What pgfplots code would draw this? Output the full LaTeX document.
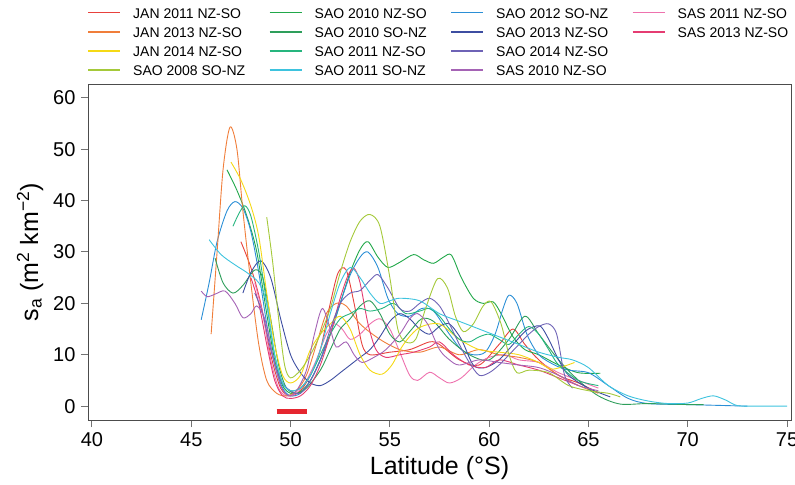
\documentclass[border=0pt]{standalone}
\usepackage{pgfplots}
\pgfplotsset{compat=1.18}
\usepackage{fontspec}
\setmainfont{Liberation Sans}
\definecolor{cA}{HTML}{E8413C}
\definecolor{cB}{HTML}{F07E3A}
\definecolor{cC}{HTML}{F5D915}
\definecolor{cD}{HTML}{A5C93A}
\definecolor{cE}{HTML}{21A84A}
\definecolor{cF}{HTML}{2E9E5B}
\definecolor{cG}{HTML}{26B57E}
\definecolor{cH}{HTML}{3EC3DE}
\definecolor{cI}{HTML}{2B8FD6}
\definecolor{cJ}{HTML}{3D4EA1}
\definecolor{cK}{HTML}{6E63B6}
\definecolor{cL}{HTML}{A563B5}
\definecolor{cM}{HTML}{EE72AE}
\definecolor{cN}{HTML}{E53C72}
\definecolor{barred}{HTML}{E5262F}
\newcommand{\legimg}[2]{\addlegendimage{empty legend}\addlegendentry{\textcolor{#1}{\rule[0.33em]{32bp}{1.7bp}}\hspace{13bp}\makebox[118bp][l]{#2}}}
\begin{document}
\begin{tikzpicture}
\begin{axis}[
  name=ax,
  scale only axis, width=703bp, height=336bp,
  xmin=39.8, xmax=75.2, ymin=-2.7, ymax=62.7,
  xtick={40,45,...,75}, ytick={0,10,...,60},
  tick align=outside, tick pos=left, major tick length=7bp,
  every tick/.style={black!55, line width=1bp},
  axis line style={black!70, line width=0.8bp},
  /pgf/number format/assume math mode=true,
  ticklabel style={font=\fontsize{20bp}{24bp}\selectfont},
  xticklabel style={yshift=-2bp},
  yticklabel style={xshift=-2bp},
  every axis x label/.style={at={(rel axis cs:0.5,0)}, yshift=-48bp, anchor=center},
  every axis y label/.style={at={(rel axis cs:0,0.5)}, xshift=-58bp, rotate=90, anchor=center},
  label style={font=\fontsize{25bp}{30bp}\selectfont},
  xlabel={Latitude (°S)},
  ylabel={s\textsubscript{a} (m\textsuperscript{2} km\textsuperscript{−2})},
  legend columns=4,
  legend cell align=left,
  legend style={draw=none, fill=none, at={(rel axis cs:0,1)}, anchor=south west,
    xshift=-3bp, yshift=5bp, row sep=7.8bp,
    nodes={inner sep=0pt},
    font=\fontsize{14bp}{16bp}\selectfont,
    /tikz/every odd column/.append style={column sep=0bp},
    /tikz/every even column/.append style={column sep=18.5bp}},
]
% JAN 2011 NZ-SO
\addplot[cA, line width=0.9bp, smooth, forget plot] coordinates {(47.5,32) (48.0,27) (48.5,20) (49.0,10) (49.5,3.5) (50.0,2) (50.5,3) (51.0,6) (51.5,11) (52.0,20) (52.4,26) (52.8,26.5) (53.2,20) (53.6,12) (54.0,10) (55.0,10.5) (56.0,11) (57.0,12.5) (57.5,12) (58.5,9) (59.5,8) (60.5,12) (61.2,15) (61.8,12) (62.5,9) (63.5,6) (64.5,4.5) (65.3,3)};
% SAO 2010 NZ-SO
\addplot[cE, line width=0.9bp, smooth, forget plot] coordinates {(46.8,46) (47.3,42) (47.8,37) (48.3,30) (48.8,18) (49.2,9) (49.6,4) (50.0,2.5) (50.5,2.8) (51.0,5) (51.5,9) (52.0,14) (52.5,20) (53.0,26) (53.5,30.5) (53.9,32) (54.4,29) (54.9,27) (55.5,28) (56.2,29.5) (56.7,28.5) (57.2,27.8) (57.7,29) (58.1,29.4) (58.6,25) (59.2,21) (59.7,20) (60.2,20.3) (60.6,18) (61.2,13.5) (61.8,11) (62.5,10) (63.5,8) (64.5,6.5) (65.6,6.4)};
% SAO 2012 SO-NZ
\addplot[cI, line width=0.9bp, smooth, forget plot] coordinates {(45.5,16.8) (45.9,24) (46.3,32) (46.8,38) (47.2,39.8) (47.6,38.5) (48.0,34) (48.4,26) (48.8,16) (49.2,8) (49.6,3.5) (50.0,2) (50.5,2.5) (51.0,5) (51.5,9) (52.0,14) (52.5,20) (53.0,25.5) (53.5,29) (53.9,30) (54.4,27) (54.9,21) (55.4,18) (56.0,17.5) (56.6,19) (57.2,18.5) (58.0,14) (58.6,11) (59.2,10) (59.8,10.5) (60.3,14) (60.7,19) (61.0,21.6) (61.4,20) (61.9,14) (62.5,10) (63.3,8) (64.0,7) (65.0,6.5) (66.0,4) (67.0,1.5) (68.0,0.5) (70.0,0.3) (72.0,0.1) (73.0,0)};
% SAS 2011 NZ-SO
\addplot[cM, line width=0.9bp, smooth, forget plot] coordinates {(48.2,24) (48.6,18) (49.0,9) (49.4,3.5) (49.8,2) (50.3,2.5) (50.8,5) (51.3,9) (51.8,14) (52.2,16) (52.6,15) (53.0,13) (53.5,14) (54.0,16) (54.5,17) (55.0,15) (55.5,10.5) (56.0,6) (56.4,5) (57.0,6.6) (57.5,5.5) (58.0,4.5) (58.6,5.5) (59.3,8) (60.0,9.5) (60.8,10) (61.5,9) (62.5,8.5) (63.5,6.5) (64.5,5) (65.5,3.5)};
% JAN 2013 NZ-SO
\addplot[cB, line width=0.9bp, smooth, forget plot] coordinates {(46.0,14) (46.3,30) (46.6,46) (46.95,54.3) (47.3,50) (47.6,38) (48.0,24) (48.4,12) (48.8,5) (49.3,2.5) (49.8,2) (50.3,3) (50.8,6) (51.3,12) (51.8,18) (52.3,20) (52.8,19.5) (53.5,16) (54.5,13) (55.5,11) (56.5,10.5) (57.5,11.5) (58.5,10) (59.5,11) (60.5,10) (61.5,9.5) (62.5,8.5) (63.5,6) (64.5,4) (65.5,2.5)};
% SAO 2010 SO-NZ
\addplot[cF, line width=0.9bp, smooth, forget plot] coordinates {(46.2,28.8) (46.6,24) (47.1,22) (47.6,23.5) (48.2,26.5) (48.6,25) (49.0,17) (49.4,8) (49.8,3.5) (50.3,2.5) (50.8,3.5) (51.5,7) (52.0,11) (52.5,15) (53.0,17) (53.5,19.5) (54.0,20.5) (54.5,18) (55.0,14) (55.5,12.5) (56.0,14.5) (56.6,17) (57.2,16.5) (58.0,13) (59.0,10) (60.0,9) (61.0,13) (61.8,17.5) (62.5,14) (63.5,9) (64.5,5) (65.5,2) (66.6,0.4) (68.0,0.5) (70.0,0.3) (70.8,0.3)};
% SAO 2013 NZ-SO
\addplot[cJ, line width=0.9bp, smooth, forget plot] coordinates {(47.6,22) (48.0,26) (48.5,28.3) (49.0,25) (49.5,17) (50.0,10) (50.5,6.5) (51.0,4.5) (51.5,4) (52.0,5) (52.5,6.5) (53.0,8) (53.5,9.5) (54.0,11) (54.5,13.5) (55.0,16.5) (55.5,18) (56.0,17) (56.5,15) (57.0,14) (57.5,15.5) (58.0,16) (58.6,13) (59.2,8) (59.8,7.5) (60.5,9) (61.2,12) (61.8,14.5) (62.2,15.4) (62.6,15.5) (63.0,13) (63.5,9) (64.0,6) (65.0,3.5) (66.1,1.8)};
% SAS 2013 NZ-SO
\addplot[cN, line width=0.9bp, smooth, forget plot] coordinates {(48.0,25) (48.4,20) (48.8,12) (49.2,5) (49.6,2) (50.0,1.5) (50.5,2) (51.0,4) (51.5,8) (52.0,14) (52.5,21) (52.9,25.5) (53.2,26.8) (53.5,24) (53.9,16) (54.3,11) (54.8,9.5) (55.5,10) (56.2,10.5) (57.0,11.5) (57.5,12.5) (58.2,10) (59.0,8) (59.8,7.5) (60.5,9) (61.5,8) (62.5,7) (63.5,5.5) (64.5,4)};
% JAN 2014 NZ-SO
\addplot[cC, line width=0.9bp, smooth, forget plot] coordinates {(47.0,47.5) (47.5,44) (48.0,39) (48.4,33) (48.8,22) (49.2,12) (49.6,6) (50.0,4.5) (50.5,6) (51.0,11) (51.5,14) (52.0,16) (52.5,17.5) (53.0,15) (53.5,10) (54.0,7) (54.6,6.2) (55.1,8) (55.6,11.5) (56.1,14) (56.6,15.5) (57.5,16) (58.5,13) (59.5,11) (60.5,10.5) (61.5,10) (62.5,8.5) (63.2,7.2) (64.3,8.5)};
% SAO 2011 NZ-SO
\addplot[cG, line width=0.9bp, smooth, forget plot] coordinates {(47.1,35) (47.4,37.5) (47.7,39) (48.0,37) (48.4,30) (48.8,20) (49.2,10) (49.6,4.5) (50.0,3) (50.5,3.5) (51.0,6) (51.5,10) (52.0,14) (52.5,17) (53.0,18) (53.5,19) (54.0,18.5) (54.6,19) (55.2,20) (55.8,18) (56.5,18.5) (57.0,19) (57.5,17.5) (58.0,15) (58.5,13) (59.0,12.5) (59.5,13.5) (60.0,14) (60.5,13) (61.0,12) (61.5,14) (62.0,15.5) (62.5,14) (63.0,11) (63.5,8) (64.5,5) (65.5,4)};
% SAO 2014 NZ-SO
\addplot[cK, line width=0.9bp, smooth, forget plot] coordinates {(48.2,22) (48.6,18) (49.0,11) (49.5,5) (50.0,3) (50.5,2.5) (51.0,5) (51.5,9) (52.0,15) (52.5,20) (53.0,22) (53.5,22.5) (54.0,24.5) (54.4,25.6) (54.9,23) (55.5,19) (56.0,18.5) (56.5,20) (57.0,21) (57.5,19.5) (58.0,16) (58.5,12) (59.0,8.5) (59.5,6) (60.0,6.5) (60.5,8) (61.0,10) (61.5,12) (62.0,14) (62.5,15.5) (63.0,16) (63.4,14) (63.8,6) (64.2,3.5)};
% SAO 2008 SO-NZ
\addplot[cD, line width=0.9bp, smooth, forget plot] coordinates {(48.8,36.8) (49.1,28) (49.4,17) (49.7,8) (50.0,5.5) (50.5,7) (51.0,10) (51.5,14) (52.0,19) (52.5,26) (53.0,32) (53.5,36) (54.0,37.3) (54.5,35) (55.0,25) (55.4,15) (55.8,12.5) (56.3,13) (56.8,19) (57.4,24.8) (57.9,23) (58.3,17.5) (58.7,14.5) (59.2,16) (59.7,19.5) (60.1,20.3) (60.6,16) (61.0,10) (61.4,6.5) (62.0,7) (63.0,6.5) (64.0,4) (65.0,3) (66.0,2.5) (66.6,1.8)};
% SAO 2011 SO-NZ
\addplot[cH, line width=0.9bp, smooth, forget plot] coordinates {(45.9,32.4) (46.5,29.5) (47.2,27.5) (47.8,26) (48.4,24) (48.8,20) (49.2,10) (49.6,4.5) (50.0,3) (50.5,3.5) (51.0,6) (51.5,11) (52.0,18) (52.5,24) (53.0,27) (53.5,25) (54.0,22) (54.5,20) (55.0,20.5) (55.5,21) (56.5,20.5) (57.5,18) (58.5,16.5) (59.5,15) (60.5,13.5) (61.5,12) (62.5,10.5) (63.5,9.5) (64.2,9) (65.0,7.5) (66.0,4) (67.0,2) (68.0,1) (69.0,0.5) (70.0,0.6) (70.7,1.5) (71.3,2) (71.9,1.2) (72.5,0.1) (73.5,0) (75.0,0)};
% SAS 2010 NZ-SO
\addplot[cL, line width=0.9bp, smooth, forget plot] coordinates {(45.5,22.4) (45.8,21.3) (46.2,21.8) (46.7,22.4) (47.2,20) (47.6,17.2) (48.0,18) (48.3,19.5) (48.7,17) (49.1,10) (49.5,4) (49.9,2) (50.3,3) (50.8,7) (51.2,14) (51.6,19) (52.0,15) (52.3,11.5) (52.8,12.5) (53.2,10) (53.6,8.5) (54.2,9.5) (54.8,11) (55.5,14) (56.0,17) (56.4,18) (56.9,16) (57.5,11) (58.0,9) (58.5,8) (59.5,9) (60.5,8.5) (61.5,8) (62.5,7.5) (63.5,6) (64.5,4) (65.5,3)};
% red bar
\addplot[barred, line width=5bp, forget plot] coordinates {(49.3,-1) (50.85,-1)};
% legend, row by row
\legimg{cA}{JAN 2011 NZ-SO}
\legimg{cE}{SAO 2010 NZ-SO}
\legimg{cI}{SAO 2012 SO-NZ}
\legimg{cM}{SAS 2011 NZ-SO}
\legimg{cB}{JAN 2013 NZ-SO}
\legimg{cF}{SAO 2010 SO-NZ}
\legimg{cJ}{SAO 2013 NZ-SO}
\legimg{cN}{SAS 2013 NZ-SO}
\legimg{cC}{JAN 2014 NZ-SO}
\legimg{cG}{SAO 2011 NZ-SO}
\legimg{cK}{SAO 2014 NZ-SO}
\addlegendimage{empty legend}\addlegendentry{}
\legimg{cD}{SAO 2008 SO-NZ}
\legimg{cH}{SAO 2011 SO-NZ}
\legimg{cL}{SAS 2010 NZ-SO}
\end{axis}
\pgfresetboundingbox
\path ([xshift=-88bp,yshift=-65bp]ax.south west) rectangle ([xshift=4bp,yshift=84bp]ax.north east);
\end{tikzpicture}
\end{document}
